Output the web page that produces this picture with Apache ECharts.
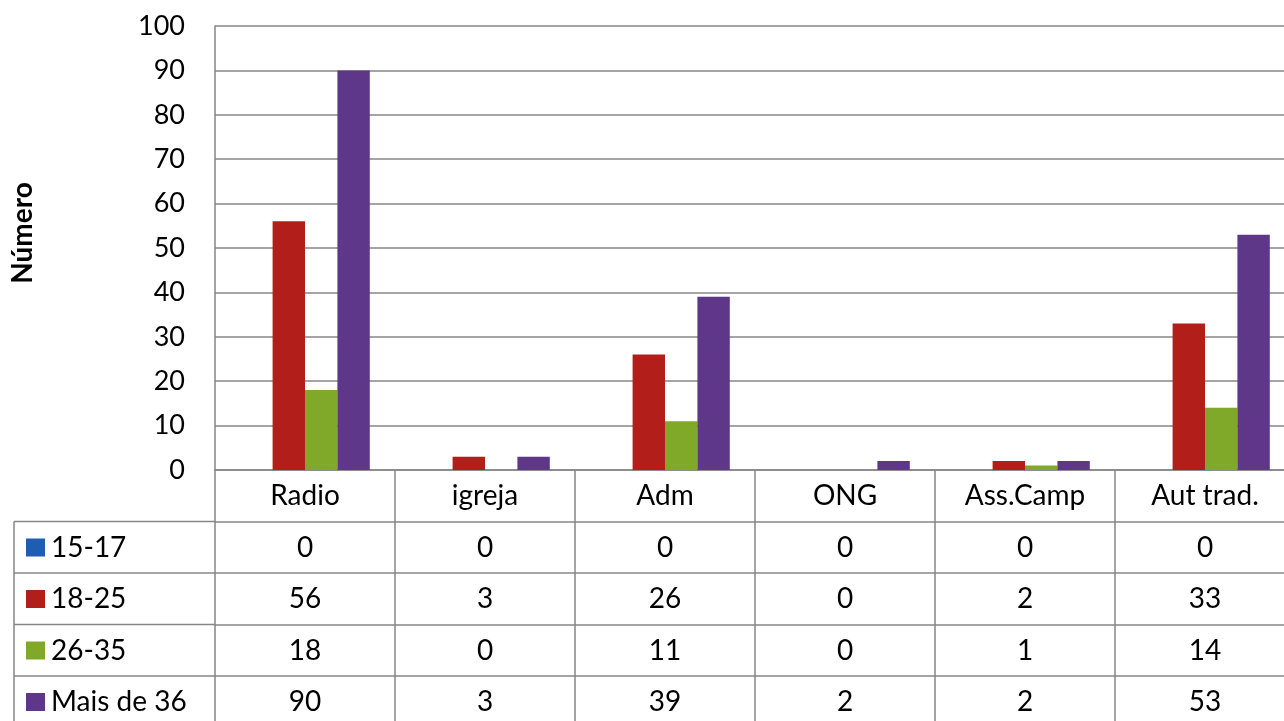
<!DOCTYPE html>
<html>
<head>
<meta charset="utf-8">
<script src="https://cdn.jsdelivr.net/npm/echarts@6/dist/echarts.min.js"></script>
<style>
  html, body { margin: 0; padding: 0; background: #fff; overflow: hidden; }
  #chart { width: 1296px; height: 721px; }
</style>
</head>
<body>
<div id="chart"></div>
<script>
var categories = ['Radio', 'igreja', 'Adm', 'ONG', 'Ass.Camp', 'Aut trad.'];
var age15_17 = [0, 0, 0, 0, 0, 0];
var age18_25 = [56, 3, 26, 0, 2, 33];
var age26_35 = [18, 0, 11, 0, 1, 14];
var age36plus = [90, 3, 39, 2, 2, 53];
var seriesNames = ['15-17', '18-25', '26-35', 'Mais de 36'];
var yTicks = [0, 100, 10]; // min, max, step

var colors = ['#1F5DB3', '#B21E1A', '#80A92A', '#5F3789'];
var lineColor = '#868686';
var font = 'Lato';
var fs = 27;
var tableFs = 28;

// layout of the plot / table (the plot runs past the right edge, like the original crop)
var gridLeft = 215, gridTop = 26, gridW = 1080, gridH = 444;
var rowH = 51.5;
var tableLeft = 14;

var rows = [age15_17, age18_25, age26_35, age36plus];
var axisBottom = gridTop + gridH;

var chart = echarts.init(document.getElementById('chart'));

// table rows are drawn as extra category axes under the plot
var xAxes = [{
  type: 'category',
  data: categories,
  position: 'bottom',
  axisLine: { show: true, lineStyle: { color: lineColor, width: 1.5 } },
  axisTick: { show: true, length: rowH, lineStyle: { color: lineColor, width: 1.5 } },
  axisLabel: { color: '#000', fontFamily: font, fontSize: tableFs, margin: 12 }
}];
rows.forEach(function (vals, r) {
  xAxes.push({
    type: 'category',
    data: categories,
    position: 'bottom',
    offset: rowH * (r + 1),
    axisLine: { show: true, lineStyle: { color: lineColor, width: 1.5 } },
    axisTick: { show: true, length: rowH, lineStyle: { color: lineColor, width: 1.5 } },
    axisLabel: {
      color: '#000', fontFamily: font, fontSize: tableFs, margin: 12,
      formatter: function (v, i) { return String(vals[i]); }
    }
  });
});

// left column of the table (legend cells) + rotated axis title
var extras = [];
for (var r = 0; r < rows.length; r++) {
  var y = axisBottom + rowH * (r + 1);
  extras.push({
    type: 'line',
    shape: { x1: tableLeft, y1: y, x2: gridLeft, y2: y },
    style: { stroke: lineColor, lineWidth: 1.5 }
  });
}
extras.push({
  type: 'line',
  shape: { x1: tableLeft, y1: axisBottom + rowH, x2: tableLeft, y2: 760 },
  style: { stroke: lineColor, lineWidth: 1.5 }
});
extras.push({
  type: 'text',
  x: 23,
  y: 233,
  rotation: Math.PI / 2,
  style: {
    text: 'Número',
    fill: '#000',
    font: 'bold 28px ' + font,
    align: 'center',
    verticalAlign: 'middle'
  }
});

chart.setOption({
  animation: false,
  color: colors,
  grid: { left: gridLeft, top: gridTop, width: gridW, height: gridH },
  legend: {
    orient: 'vertical',
    left: 26,
    top: axisBottom + rowH + 12,
    padding: 0,
    itemGap: rowH - 28,
    itemWidth: 19,
    itemHeight: 18,
    icon: 'rect',
    selectedMode: false,
    textStyle: { color: '#000', fontFamily: font, fontSize: tableFs, lineHeight: 28, padding: [0, 0, 0, 1] },
    data: seriesNames
  },
  xAxis: xAxes,
  yAxis: {
    type: 'value',
    min: yTicks[0],
    max: yTicks[1],
    interval: yTicks[2],
    axisLine: { show: true, lineStyle: { color: lineColor, width: 1.5 } },
    axisTick: { show: false },
    axisLabel: { color: '#000', fontFamily: font, fontSize: fs, margin: 30 },
    splitLine: { show: true, lineStyle: { color: lineColor, width: 1.5 } }
  },
  graphic: extras,
  series: rows.map(function (vals, i) {
    return {
      name: seriesNames[i],
      type: 'bar',
      xAxisIndex: 0,
      data: vals,
      barGap: 0,
      barCategoryGap: '28%'
    };
  })
});
</script>
</body>
</html>
